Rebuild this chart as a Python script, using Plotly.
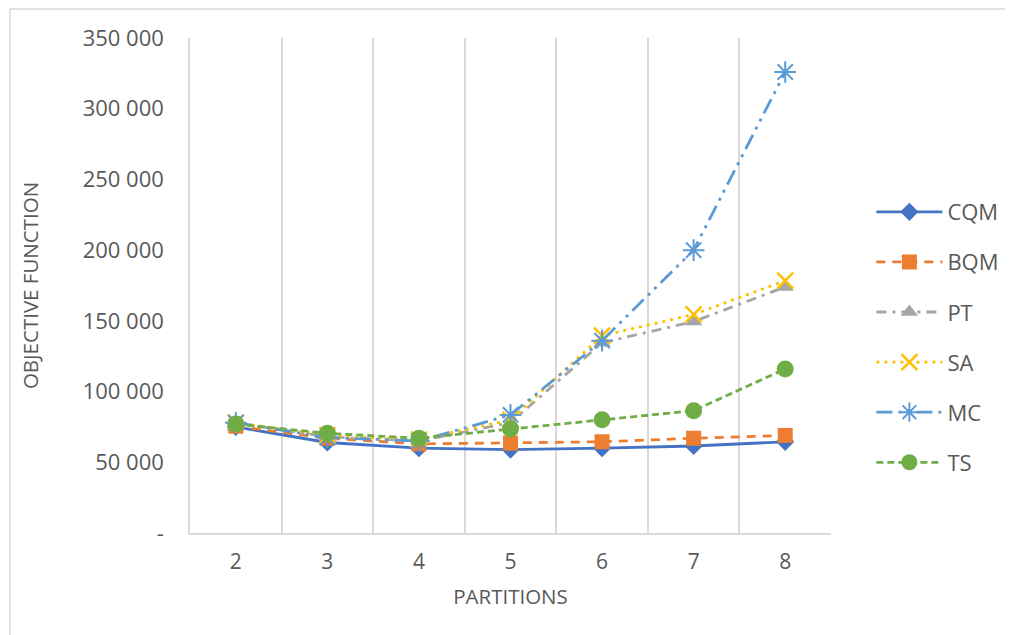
import plotly.graph_objects as go

partitions = [2, 3, 4, 5, 6, 7, 8]
cqm = [75000, 64000, 60000, 59000, 60000, 61500, 64500]
bqm = [75500, 67000, 63000, 63500, 64500, 67000, 69000]
pt = [78000, 68000, 65000, 78000, 134500, 149500, 174000]
sa = [78000, 69000, 66000, 80000, 139500, 154500, 178500]
mc = [78000, 67500, 65000, 83500, 136000, 200000, 326000]
ts = [77000, 70500, 67000, 73500, 80000, 86500, 116000]

y_ticks = [0, 50000, 100000, 150000, 200000, 250000, 300000, 350000]
y_tick_text = ["-", "50 000", "100 000", "150 000", "200 000", "250 000", "300 000", "350 000"]

FONT = "Open Sans"
TXT = "#595959"

series = [
    ("CQM", cqm, "#4472C4", "solid", dict(symbol="diamond", size=14, color="#4472C4")),
    ("BQM", bqm, "#ED7D31", "9px,7px", dict(symbol="square", size=15, color="#ED7D31")),
    ("PT", pt, "#A5A5A5", "10px,6px,3px,6px", dict(symbol="triangle-up", size=15, color="#A5A5A5")),
    ("SA", sa, "#FFC000", "3px,5px", dict(symbol="x-thin-open", size=16, color="#FFC000",
                                           line=dict(color="#FFC000", width=2.5))),
    ("MC", mc, "#5B9BD5", "16px,6px,3px,6px,3px,6px", dict(symbol="asterisk-open", size=18, color="#5B9BD5",
                                                            line=dict(color="#5B9BD5", width=2))),
    ("TS", ts, "#70AD47", "7px,4px", dict(symbol="circle", size=17, color="#70AD47")),
]

fig = go.Figure()
for name, vals, col, dash, marker in series:
    fig.add_trace(go.Scatter(
        x=partitions, y=vals, name=name, mode="lines+markers",
        line=dict(color=col, width=2.8, dash=dash),
        marker=marker, legendgroup=name,
    ))

frame = dict(color="#D9D9D9", width=1.5)
# page body has an 8px default margin: figure is sized/placed to compensate
fig.update_layout(
    width=1005, height=627,
    margin=dict(l=182, r=182, t=30, b=102, autoexpand=False),
    paper_bgcolor="white", plot_bgcolor="white",
    font=dict(family=FONT, size=22, color=TXT),
    legend=dict(x=1.063, y=0.395, xanchor="left", yanchor="middle",
                tracegroupgap=18.5, itemwidth=66, font=dict(size=22, color=TXT),
                bgcolor="rgba(0,0,0,0)"),
    shapes=[
        dict(type="line", xref="paper", yref="paper", x0=-180/641, x1=1.5,
             y0=1 + 29/495, y1=1 + 29/495, line=frame, layer="below"),
        dict(type="line", xref="paper", yref="paper", x0=-180/641, x1=-180/641,
             y0=1 + 29/495, y1=-0.3, line=frame, layer="below"),
    ],
)

fig.update_xaxes(
    range=[1.5, 8.5], tickvals=partitions, ticktext=[str(p) for p in partitions],
    showgrid=False, zeroline=False, showline=True, linecolor="#D9D9D9", linewidth=1.5,
    minor=dict(tickvals=[2.5, 3.5, 4.5, 5.5, 6.5, 7.5, 8.5], showgrid=True,
               gridcolor="#D9D9D9", gridwidth=1.5),
    ticks="", ticklabelstandoff=9, tickfont=dict(size=21),
    title=dict(text="PARTITIONS", font=dict(size=20.5, color=TXT), standoff=16),
)
fig.update_yaxes(
    range=[0, 350000], tickvals=y_ticks, ticktext=y_tick_text,
    showgrid=False, zeroline=False, showline=True, linecolor="#D9D9D9", linewidth=1.5,
    ticks="", ticklabelstandoff=20, tickfont=dict(size=22),
    title=dict(text="OBJECTIVE FUNCTION", font=dict(size=20.5, color=TXT), standoff=38),
)

fig.write_html("out.html")
